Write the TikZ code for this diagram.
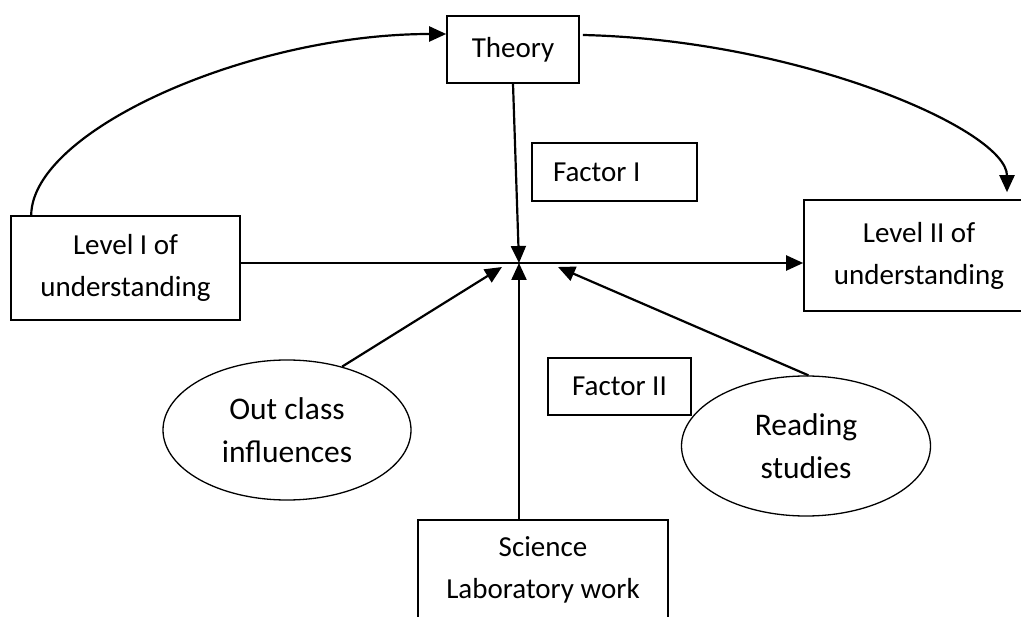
\documentclass[tikz,border=0pt]{standalone}
\usepackage{fontspec}
\setmainfont{Carlito}
\usetikzlibrary{shapes.geometric,arrows.meta}
\begin{document}
\begin{tikzpicture}[x=1pt,y=-1pt,
  txt/.style={font=\fontsize{29}{42}\selectfont},
  box/.style={draw, line width=1.6pt, rectangle, inner sep=0pt, align=center, txt},
  oval/.style={draw, line width=1.3pt, ellipse, inner sep=0pt, align=center, font=\fontsize{31.5}{43}\selectfont},
  conn/.style={line width=2.2pt, -{Triangle[length=17pt,width=15pt]}}
]
\useasboundingbox (0,0) rectangle (1021,617);
\clip (0,0) rectangle (1021,617);

\node[box, minimum width=132pt, minimum height=67pt] (theory) at (513,49.5) {Theory};
\node[box, minimum width=165pt, minimum height=58pt] (f1) at (614.5,172) {\makebox[123pt][l]{Factor I}};
\node[box, minimum width=229pt, minimum height=104pt] (lvl1) at (125.5,268) {Level I of\\understanding};
\node[box, minimum width=230pt, minimum height=111pt] (lvl2) at (919,255.5) {Level II of\\understanding};
\node[box, minimum width=143pt, minimum height=57pt] (f2) at (619.5,386.5) {Factor II};
\node[box, minimum width=250pt, minimum height=100pt] (sci) at (543,570) {Science\\Laboratory work};
\node[oval, minimum width=248pt, minimum height=140pt] (outclass) at (287,430) {Out class\\influences};
\node[oval, minimum width=249pt, minimum height=140pt] (reading) at (806,446) {Reading\\studies};

\coordinate (c) at (519,263);
\coordinate (tl) at (502,267);
\coordinate (tr) at (558,267);

\draw[conn] (lvl1.east |- c) -- (lvl2.west |- c);
\draw[conn] (theory.south) -- (c);
\draw[conn] (sci.north -| c) -- (c);
\draw[conn] (outclass.49) -- (tl);
\draw[conn] (reading.88) -- (tr);
\draw[conn] ([xshift=21pt]lvl1.north west) .. controls (32,130) and (250,34) .. ([yshift=15.5pt]theory.west);
\draw[conn] ([xshift=3pt,yshift=14.5pt]theory.east) .. controls (800,40) and (1007,130) .. ([xshift=88pt,yshift=7pt]lvl2.north);
\end{tikzpicture}
\end{document}
